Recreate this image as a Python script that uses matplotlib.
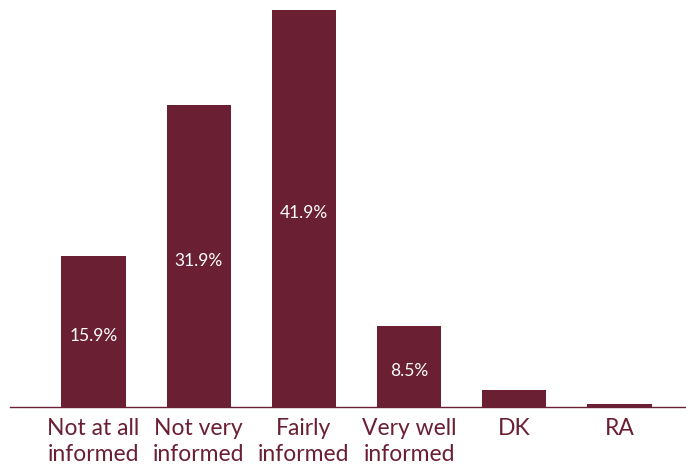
import matplotlib
matplotlib.use("Agg")
import matplotlib.pyplot as plt

categories = ["Not at all\ninformed", "Not very\ninformed", "Fairly\ninformed",
              "Very well\ninformed", "DK", "RA"]
values = [15.9, 31.9, 41.9, 8.5, 1.8, 0.3]
labels = ["15.9%", "31.9%", "41.9%", "8.5%", "", ""]

maroon = "#6a1f33"
plt.rcParams["font.family"] = ["Lato", "DejaVu Sans"]

fig = plt.figure(figsize=(6.86, 4.66), dpi=100)
ax = fig.add_axes([10 / 686, 59 / 466, 676 / 686, 397 / 466])

x = list(range(len(categories)))
bars = ax.bar(x, values, width=0.61, color=maroon)

for b, v, t in zip(bars, values, labels):
    if t:
        ax.text(b.get_x() + b.get_width() / 2, v / 2 - 0.5, t,
                ha="center", va="center", color="white", fontsize=12.5)

ax.set_xlim(-0.794, 5.632)
ax.set_ylim(0, 41.9)
ax.set_xticks(x)
ax.set_xticklabels(categories, color=maroon, fontsize=16.5, linespacing=1.3)
ax.tick_params(axis="x", length=0, pad=8)
ax.set_yticks([])
for s in ["top", "right", "left"]:
    ax.spines[s].set_visible(False)
ax.spines["bottom"].set_color(maroon)
ax.spines["bottom"].set_linewidth(1.0)

fig.savefig("out.png", dpi=100)
